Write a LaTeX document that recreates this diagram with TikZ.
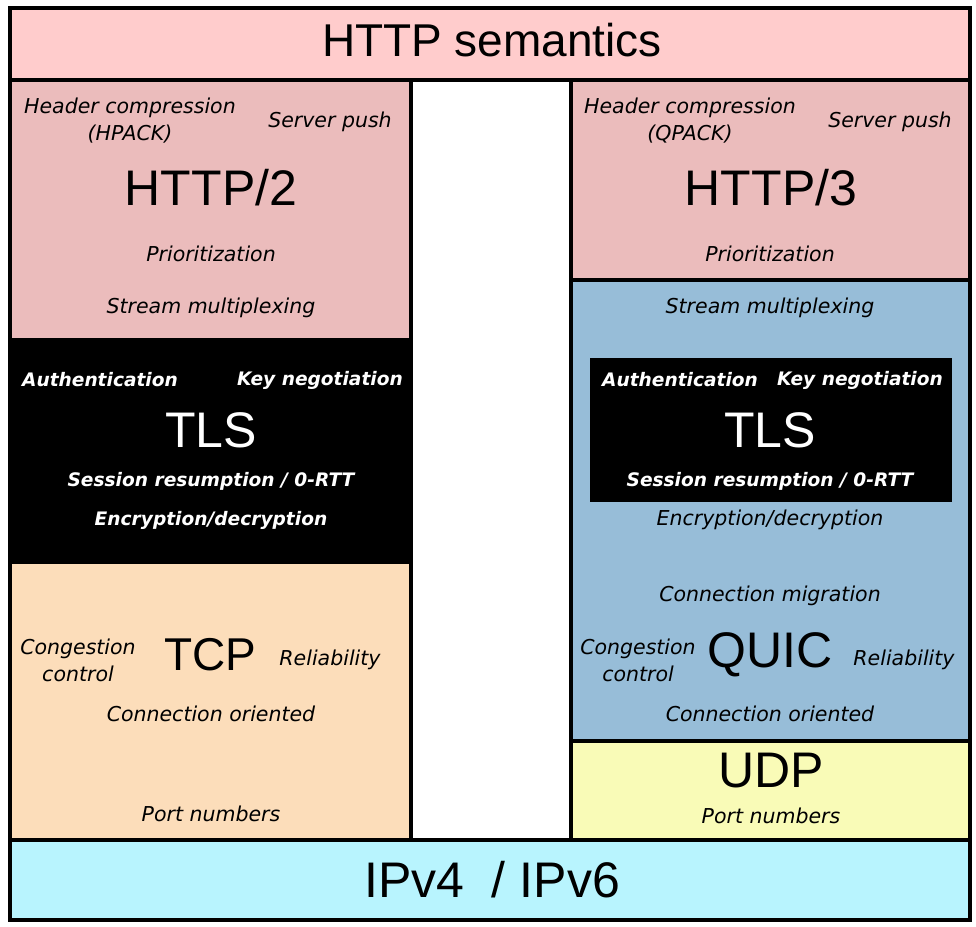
\documentclass[tikz,border=0pt]{standalone}
\usepackage{fontspec}
\setmainfont{Liberation Sans}
\newfontfamily\featfont{DejaVu Sans}
\definecolor{semcol}{HTML}{FFCCCC}
\definecolor{httpcol}{HTML}{EBBCBC}
\definecolor{tcpcol}{HTML}{FCDDBA}
\definecolor{quiccol}{HTML}{97BDD8}
\definecolor{udpcol}{HTML}{F9FBB7}
\definecolor{ipcol}{HTML}{B8F4FE}

\begin{document}
\begin{tikzpicture}[x=1pt, y=-1pt,
    layer/.style={draw=black, line width=4pt},
    title/.style={font=\fontsize{46}{50}\selectfont, inner sep=0pt},
    bigtitle/.style={title, font=\fontsize{50}{54}\selectfont},
    feat/.style={font=\featfont\itshape\fontsize{20.5}{27}\selectfont, inner sep=0pt, align=center},
    tlsfeat/.style={feat, font=\featfont\bfseries\itshape\fontsize{18.6}{26}\selectfont, text=white}]
  \useasboundingbox (0,0) rectangle (976,926);

  % Layers
  \fill[white] (0,0) rectangle (976,926);
  \filldraw[layer, fill=semcol] (10,8) rectangle (970,80);
  \filldraw[layer, fill=httpcol] (10,80) rectangle (411,340);
  \filldraw[layer, fill=black] (10,340) rectangle (411,562);
  \filldraw[layer, fill=tcpcol] (10,562) rectangle (411,840);
  \filldraw[layer, fill=httpcol] (571,80) rectangle (970,280);
  \filldraw[layer, fill=quiccol] (571,280) rectangle (970,741);
  \fill[black] (590,358) rectangle (952,502);
  \filldraw[layer, fill=udpcol] (571,741) rectangle (970,840);
  \filldraw[layer, fill=ipcol] (10,840) rectangle (970,920);

  % HTTP semantics
  \node[title] (sem) at (492,40) {HTTP semantics};

  % HTTP/2 stack
  \node[feat] (hpack) at (130,121) {Header compression\\(HPACK)};
  \node[feat] (push2) at (330,122) {Server push};
  \node[bigtitle] (http2) at (211,188) {HTTP/2};
  \node[feat] (prio2) at (211,254) {Prioritization};
  \node[feat] (mux2) at (211,308) {Stream multiplexing};
  \node[tlsfeat] (auth2) at (100,380) {Authentication};
  \node[tlsfeat] (key2) at (320,380) {Key negotiation};
  \node[bigtitle, text=white] (tls2) at (211,430) {TLS};
  \node[tlsfeat] (resume2) at (211,481) {Session resumption / 0-RTT};
  \node[tlsfeat] (crypt2) at (211,520) {Encryption/decryption};
  \node[feat] (cc2) at (78,660) {Congestion\\control};
  \node[title] (tcp) at (210,655) {TCP};
  \node[feat] (rel2) at (330,660) {Reliability};
  \node[feat] (conn2) at (211,714) {Connection oriented};
  \node[feat] (port2) at (211,814) {Port numbers};

  % HTTP/3 stack
  \node[feat] (qpack) at (690,121) {Header compression\\(QPACK)};
  \node[feat] (push3) at (890,122) {Server push};
  \node[bigtitle] (http3) at (771,188) {HTTP/3};
  \node[feat] (prio3) at (770,254) {Prioritization};
  \node[feat] (mux3) at (770,308) {Stream multiplexing};
  \node[tlsfeat] (auth3) at (680,380) {Authentication};
  \node[tlsfeat] (key3) at (860,380) {Key negotiation};
  \node[bigtitle, text=white] (tls3) at (770,430) {TLS};
  \node[tlsfeat] (resume3) at (770,481) {Session resumption / 0-RTT};
  \node[feat] (crypt3) at (770,520) {Encryption/decryption};
  \node[feat] (migr) at (770,596) {Connection migration};
  \node[feat] (cc3) at (638,660) {Congestion\\control};
  \node[bigtitle] (quic) at (770,655) {QUIC};
  \node[feat] (rel3) at (904,660) {Reliability};
  \node[feat] (conn3) at (770,714) {Connection oriented};
  \node[bigtitle] (udp) at (771,771) {UDP};
  \node[feat] (port3) at (771,816) {Port numbers};

  % IP
  \node[bigtitle] (ip) at (492,880) {IPv4~~/ IPv6};
\end{tikzpicture}
\end{document}
